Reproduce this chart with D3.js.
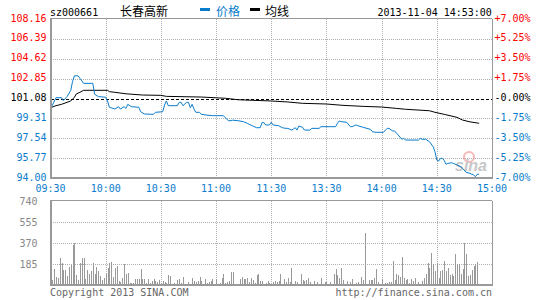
<!DOCTYPE html>
<html lang="zh">
<head>
<meta charset="UTF-8">
<script src="https://cdn.jsdelivr.net/npm/d3@7"></script>
<title>sz000661 分时</title>
<style>
    body { margin: 0; background: #fff; }
    svg { display: block; }
    .mono { font-family: "DejaVu Sans Mono", "Liberation Mono", monospace; font-size: 10px; }
    .cjk { font-family: "Noto Sans CJK SC", sans-serif; font-size: 12px; }
</style>
</head>
<body>
<div id="chart"></div>
<script>
    // --- data ---
    const stockCode = "sz000661";
    const stockName = "长春高新";
    const stamp = "2013-11-04 14:53:00";
    const prevClose = 101.08;

    const priceTicks = [108.16, 106.39, 104.62, 102.85, 101.08, 99.31, 97.54, 95.77, 94.00];
    const pctTicks = ["+7.00%", "+5.25%", "+3.50%", "+1.75%", "-0.00%", "-1.75%", "-3.50%", "-5.25%", "-7.00%"];
    const timeTicks = [0, 30, 60, 90, 120, 150, 180, 210, 240];
    const timeLabels = ["09:30", "10:00", "10:30", "11:00", "11:30", "13:30", "14:00", "14:30", "15:00"];
    const volTicks = [740, 555, 370, 185];

    // minutes after 09:30 (lunch removed), price
    const priceT = [0,3,6,7,9,11,12,13,15,16,18,23,24,26,30,31,32,35,37,38,40,41,42,44,48,49,51,56,57,61,62,63,64,69,70,71,72,74,75,76,77,78,79,81,82,85,88,94,95,96,97,99,102,105,107,108,110,112,114,115,116,117,119,
        120,121,124,126,128,129,131,132,133,134,135,137,138,141,142,146,147,155,156,157,158,161,163,164,166,167,170,172,174,175,177,181,183,184,186,187,189,191,192,193,200,201,202,204,206,208,209,210,211,212,213,214,215,216,218,219,221,223,224,226,228,229,230,231,232,233];
    const priceV = [100.15,101.15,101.15,100.9,101.25,101.8,102.6,103.1,103.1,102.88,102.43,102.43,101.46,101.25,101.19,100.86,100.3,100.14,100.35,100.14,100.35,100.2,100.56,100.35,100.3,99.9,99.7,99.67,99.85,99.9,100.5,100.86,100.44,100.44,100.74,100.74,100.44,100.74,100.74,100.26,100.56,100.14,99.85,99.85,99.67,99.6,99.55,99.55,99.37,99.22,99.08,99.15,99.1,99.01,98.87,98.78,98.63,98.48,98.48,98.93,98.93,98.72,98.72,
        98.96,98.72,98.66,98.48,98.42,98.42,98.27,98.36,98.48,98.27,98.63,98.51,98.27,98.27,98.42,98.42,98.57,98.57,98.87,99.08,99.02,98.96,98.57,98.57,98.72,98.66,98.51,98.42,98.33,98.12,98.07,98.07,98.42,98.42,98.19,98.19,97.83,97.45,97.53,97.38,97.38,97.53,97.45,97.45,97.23,96.79,96.34,95.6,95.51,95.75,95.75,95.57,95.22,95.3,95.36,95.3,95.16,95.0,94.86,94.5,94.42,94.33,94.27,94.12,94.33,94.33];

    const avgT = [0,3,6,9,11,13,14,16,18,31,32,35,41,50,60,63,82,95,102,110,120,129,137,150,159,170,180,188,193,206,209,214,221,224,228,232,233];
    const avgV = [100.26,100.44,100.56,100.74,100.86,101.19,101.48,101.63,101.81,101.81,101.69,101.63,101.5,101.39,101.36,101.27,101.21,101.1,100.97,100.92,100.86,100.77,100.65,100.59,100.47,100.38,100.32,100.2,100.12,99.99,99.85,99.67,99.4,99.16,99.0,98.9,98.87];

    // volume per minute, morning then afternoon
    const volAM = [160,40,141,70,62,241,191,132,132,79,162,176,352,367,88,44,194,241,241,53,132,100,126,191,94,159,126,82,44,59,100,147,191,203,73,147,167,35,29,65,182,97,106,18,18,18,56,50,50,141,53,50,21,53,21,35,53,35,23,44,15,35,29,15,88,82,9,21,12,44,53,21,70,6,12,26,12,62,35,29,35,70,35,9,50,21,23,35,53,12,50,9,21,65,94,21,23,38,112,112,9,12,6,53,70,53,50,65,29,59,41,15,88,94,35,35,12,21,35,18];
    const volPM = [6,29,35,29,35,100,12,53,29,65,29,150,12,35,29,12,100,47,35,41,65,29,12,35,12,29,12,65,12,29,29,12,29,12,100,141,88,65,150,44,12,35,12,29,53,12,18,29,12,70,47,461,6,47,41,47,59,144,26,12,56,12,21,21,26,29,211,47,94,88,68,247,65,47,53,18,56,35,65,12,29,12,35,59,94,194,153,279,182,123,194,65,123,129,211,123,150,88,100,82,270,182,182,100,141,370,270,76,88,129,167,182,200,6];

    // --- layout ---
    const W = 545, H = 300;
    const left = 50.5, right = 492;
    const blue = "#0a7ccc", red = "#ff0000", gridC = "#b0b0b0", frameC = "#999";

    const svg = d3.select("#chart").append("svg").attr("width", W).attr("height", H);

    const x = d3.scaleLinear().domain([0, 240]).range([left, right]);
    const y = d3.scaleLinear().domain([94, 108.16]).range([178, 19]);
    const yv = d3.scaleLinear().domain([0, 740]).range([285, 201]);

    const crisp = v => Math.round(v) + 0.5;

    // header
    svg.append("text").attr("class", "mono").attr("x", 50).attr("y", 15.5).text(stockCode);
    svg.append("text").attr("class", "cjk").attr("x", 120).attr("y", 16).text(stockName);
    svg.append("rect").attr("x", 200).attr("y", 8).attr("width", 10).attr("height", 3).attr("fill", blue);
    svg.append("text").attr("class", "cjk").attr("x", 216).attr("y", 16).attr("fill", blue).text("价格");
    svg.append("rect").attr("x", 250).attr("y", 8).attr("width", 10).attr("height", 3).attr("fill", "#000");
    svg.append("text").attr("class", "cjk").attr("x", 265).attr("y", 16).text("均线");
    svg.append("text").attr("class", "mono").attr("x", 377.5).attr("y", 15.5).text(stamp);

    const dots = sel => sel.attr("stroke", gridC).attr("stroke-dasharray", "1,1").attr("shape-rendering", "crispEdges");

    // price panel grid
    const pg = svg.append("g");
    pg.selectAll(".hg").data(priceTicks.filter(d => d !== 108.16 && d !== 94 && d !== prevClose))
        .enter().append("line")
        .attr("x1", left).attr("x2", right)
        .attr("y1", d => crisp(y(d))).attr("y2", d => crisp(y(d)))
        .call(dots);
    pg.selectAll(".vg").data(timeTicks.slice(1, -1))
        .enter().append("line")
        .attr("x1", d => crisp(x(d))).attr("x2", d => crisp(x(d)))
        .attr("y1", y(108.16)).attr("y2", y(94))
        .call(dots);

    // volume panel grid
    const vg = svg.append("g");
    vg.selectAll("line.h").data(volTicks.slice(1))
        .enter().append("line")
        .attr("x1", left).attr("x2", right)
        .attr("y1", d => crisp(yv(d))).attr("y2", d => crisp(yv(d)))
        .call(dots);
    vg.selectAll("line.v").data(timeTicks.slice(1, -1))
        .enter().append("line")
        .attr("x1", d => crisp(x(d))).attr("x2", d => crisp(x(d)))
        .attr("y1", yv(740)).attr("y2", yv(0))
        .call(dots);

    // volume bars
    const vols = volAM.concat(volPM);
    svg.append("g").selectAll("rect").data(vols).enter().append("rect")
        .attr("x", (d, i) => Math.round(x(i)))
        .attr("width", 1)
        .attr("y", d => Math.round(yv(d)))
        .attr("height", d => Math.round(yv(0)) - Math.round(yv(d)))
        .attr("fill", "#999")
        .attr("shape-rendering", "crispEdges");

    // prev close line
    svg.append("line")
        .attr("x1", left).attr("x2", right)
        .attr("y1", crisp(y(prevClose))).attr("y2", crisp(y(prevClose)))
        .attr("stroke", "#000").attr("stroke-dasharray", "3,2").attr("shape-rendering", "crispEdges");

    // sina watermark
    const wm = svg.append("g").attr("opacity", 0.55);
    wm.append("circle").attr("cx", 469).attr("cy", 157).attr("r", 5).attr("fill", "none").attr("stroke", "#f08080").attr("stroke-width", 2);
    wm.append("text").attr("x", 455).attr("y", 171).attr("font-family", "Liberation Sans, sans-serif")
        .attr("font-size", 16).attr("font-weight", "bold").attr("font-style", "italic").attr("fill", "#999").text("sina");

    // lines
    const line = d3.line().x(d => x(d[0])).y(d => y(d[1]));
    svg.append("path").datum(avgT.map((t, i) => [t, avgV[i]]))
        .attr("d", line).attr("fill", "none").attr("stroke", "#000").attr("stroke-width", 1);
    svg.append("path").datum(priceT.map((t, i) => [t, priceV[i]]))
        .attr("d", line).attr("fill", "none").attr("stroke", blue).attr("stroke-width", 1);

    // frames
    const frame = (top, bottom) => {
        svg.append("line").attr("x1", left).attr("x2", right).attr("y1", top - 0.5).attr("y2", top - 0.5)
            .attr("stroke", frameC).attr("shape-rendering", "crispEdges");
        svg.append("line").attr("x1", right + 0.5).attr("x2", right + 0.5).attr("y1", top - 0.5).attr("y2", bottom)
            .attr("stroke", frameC).attr("shape-rendering", "crispEdges");
        svg.append("line").attr("x1", 51).attr("x2", 51).attr("y1", top - 1).attr("y2", bottom + 1)
            .attr("stroke", frameC).attr("stroke-width", 2).attr("shape-rendering", "crispEdges");
        svg.append("line").attr("x1", 50).attr("x2", right + 1).attr("y1", bottom).attr("y2", bottom)
            .attr("stroke", frameC).attr("stroke-width", 2).attr("shape-rendering", "crispEdges");
    };
    frame(y(108.16), y(94));
    frame(yv(740), yv(0));

    // price labels
    const pColor = d => d > prevClose ? red : (d < prevClose ? blue : "#000");
    svg.append("g").selectAll("text").data(priceTicks).enter().append("text")
        .attr("class", "mono").attr("text-anchor", "end")
        .attr("x", 46.5).attr("y", d => y(d) + 2.5)
        .attr("fill", pColor).text(d => d.toFixed(2));
    svg.append("g").selectAll("text").data(pctTicks).enter().append("text")
        .attr("class", "mono")
        .attr("x", 494.5).attr("y", (d, i) => y(priceTicks[i]) + 2.5)
        .attr("fill", (d, i) => pColor(priceTicks[i])).text(d => d);

    // time labels
    svg.append("g").selectAll("text").data(timeTicks).enter().append("text")
        .attr("class", "mono").attr("text-anchor", "middle")
        .attr("x", d => x(d)).attr("y", 192)
        .attr("fill", blue).text((d, i) => timeLabels[i]);

    // volume labels
    svg.append("g").selectAll("text").data(volTicks).enter().append("text")
        .attr("class", "mono").attr("text-anchor", "end")
        .attr("x", 37.5).attr("y", d => yv(d) + 3.5)
        .attr("fill", "#888").text(d => d);

    // footer
    svg.append("text").attr("class", "mono").attr("x", 50).attr("y", 295.5).attr("fill", "#666").text("Copyright 2013 SINA.COM");
    svg.append("text").attr("class", "mono").attr("text-anchor", "end").attr("x", 492).attr("y", 295.5).attr("fill", "#666").text("http://finance.sina.com.cn");
</script>
</body>
</html>
